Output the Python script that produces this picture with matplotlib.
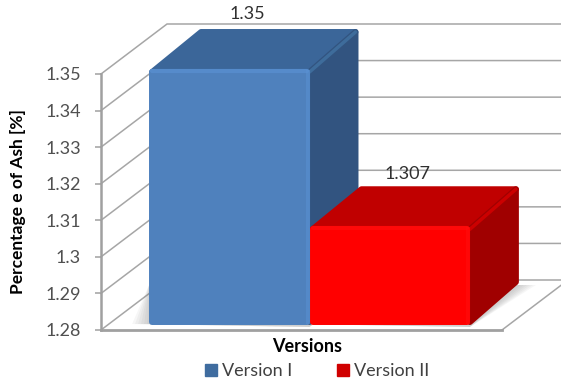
import matplotlib
matplotlib.use('Agg')
import matplotlib.pyplot as plt
from matplotlib.patches import Patch

versions = ['Version I', 'Version II']
ash = [1.35, 1.307]
value_labels = ['1.35', '1.307']
yticks = [1.28, 1.29, 1.3, 1.31, 1.32, 1.33, 1.34, 1.35]
ytick_labels = ['1.28', '1.29', '1.3', '1.31', '1.32', '1.33', '1.34', '1.35']

front_colors = ['#4F81BD', '#FF0000']
top_colors = ['#3B6699', '#C00000']
side_colors = ['#325480', '#A00000']
bevel_colors = ['#5B93D6', '#FF1010']
ridge_colors = ['#3E6C9B', '#CC0000']
legend_colors = ['#3F6C9F', '#D00000']

W, H = 561, 383
LEFT, RIGHT, BOTTOM, TOP = 101, 502, 330, 74

plt.rcParams['font.family'] = ['Lato', 'DejaVu Sans']
fig = plt.figure(figsize=(W / 100, H / 100), dpi=100)
ax = fig.add_axes([LEFT / W, 1 - BOTTOM / H, (RIGHT - LEFT) / W, (BOTTOM - TOP) / H])
ax.set_xlim(0, 1)
ax.set_ylim(yticks[0], yticks[-1])

# one pixel in data units, the oblique depth is given in pixels
px = 1 / (RIGHT - LEFT)
py = (yticks[-1] - yticks[0]) / (BOTTOM - TOP)


def shift(x, y, dx, dy):
    return x + dx * px, y + dy * py


grid = '#A6A6A6'
wall_dx, wall_dy = 66, 50
x_back_end = 1 + 70 * px
for t in yticks:
    x0, y0 = shift(0, t, 0, 0)
    x1, y1 = shift(0, t, wall_dx, wall_dy)
    ax.plot([x0, x1, x_back_end], [y0, y1, y1], color=grid, lw=1.1, clip_on=False, zorder=1)

# floor edge and the left wall
x1, y1 = shift(1, yticks[0], 66, 50)
ax.plot([1, x1], [yticks[0], y1], color=grid, lw=1.1, clip_on=False, zorder=1)
ax.plot([0, 1], [yticks[0], yticks[0]], color='#A0A0A0', lw=2, clip_on=False, zorder=2)
ax.plot([0, 0], [yticks[0], yticks[-1]], color='#A0A0A0', lw=1.8, clip_on=False, zorder=2)

bar_width = 0.4
inset_dx, inset_dy = 8, 5
depth_dx, depth_dy = 49, 40
base = yticks[0]
r = 3  # half the stroke, keeps the rounded outline inside the bar size

for i in range(len(ash)):
    left = 0.1 + i * bar_width
    right = left + bar_width
    val = ash[i]
    fx0, fy0 = shift(left, base, inset_dx, inset_dy)
    fx1, fy1 = shift(right, val, inset_dx, inset_dy)
    bx0, by0 = shift(left, base, inset_dx + depth_dx, inset_dy + depth_dy)
    bx1, by1 = shift(right, val, inset_dx + depth_dx, inset_dy + depth_dy)

    # soft shadow on the floor
    for k in range(6):
        g = 2 + k * 3
        ax.fill([fx0 - g * px, fx1, fx1 + depth_dx * px + g * px, fx0],
                [fy0 + 1 * py, fy0 - 2 * py, fy0 + depth_dy * py, fy0 + depth_dy * py],
                color='#808080', alpha=0.07, lw=0, clip_on=False, zorder=3)

    ax.fill([fx0 + r * px, bx0 + r * px, bx1 - r * px, fx1], [fy1 - r * py, by1 - r * py, by1 - r * py, fy1 - r * py],
            fc=top_colors[i], ec=top_colors[i], lw=4.3, joinstyle='round', clip_on=False, zorder=4)
    ax.fill([fx1, bx1 - r * px, bx1 - r * px, fx1], [fy1 - r * py, by1 - r * py, by0 + r * py, fy0 + r * py],
            fc=side_colors[i], ec=side_colors[i], lw=4.3, joinstyle='round', clip_on=False, zorder=4)
    # ridge between top and side
    ax.plot([fx1, bx1 - r * px], [fy1 - r * py, by1 - r * py], color=ridge_colors[i], lw=2.5,
            solid_capstyle='round', clip_on=False, zorder=4)
    ax.bar(fx0 + r * px, fy1 - fy0 - 2 * r * py, width=fx1 - fx0 - 2 * r * px, bottom=fy0 + r * py, align='edge',
           color=front_colors[i], ec=front_colors[i], lw=4.3, joinstyle='round', clip_on=False, zorder=5)

    # bevelled edges of the front face
    ax.plot([fx0 + r * px, fx1 - r * px], [fy1 - 2 * py, fy1 - 2 * py], color=bevel_colors[i], lw=3, alpha=0.6,
            solid_capstyle='round', clip_on=False, zorder=6)
    ax.plot([fx1 - 2 * px, fx1 - 2 * px], [fy1 - r * py, fy0 + r * py], color=bevel_colors[i], lw=3, alpha=0.45,
            clip_on=False, zorder=6)

ax.annotate(value_labels[0], (0.1 + bar_width / 2, ash[0]), xytext=(26, 60), textcoords='offset pixels',
            ha='center', va='center', fontsize=13, color='#303030', annotation_clip=False, zorder=7)
ax.annotate(value_labels[1], (0.1 + 1.5 * bar_width, ash[1]), xytext=(26, 57), textcoords='offset pixels',
            ha='center', va='center', fontsize=13, color='#303030', annotation_clip=False, zorder=7)

ax.set_yticks(yticks)
ax.set_yticklabels(ytick_labels, fontsize=13, color='#505050')
ax.tick_params(axis='y', length=4.3, width=1.1, color='#A0A0A0', pad=10)
ax.set_xticks([])
for s in ax.spines.values():
    s.set_visible(False)
ax.patch.set_visible(False)

fig.text(18 / W, 1 - 202 / H, 'Percentage e of Ash [%]', rotation=90, ha='center', va='center',
         fontsize=12.5, fontweight='bold', color='black')
fig.text(307 / W, 1 - 347 / H, 'Versions', ha='center', va='center', fontsize=13,
         fontweight='bold', color='black')

handles = [Patch(facecolor=legend_colors[i], edgecolor=legend_colors[i], label=versions[i])
           for i in range(len(versions))]
fig.legend(handles=handles, loc='center', bbox_to_anchor=(317 / W, 1 - 371 / H), ncol=2,
           frameon=False, fontsize=13, labelcolor='#404040', handlelength=0.67, handleheight=0.67,
           handletextpad=0.3, columnspacing=2.45)

fig.savefig('out.png', dpi=100)
